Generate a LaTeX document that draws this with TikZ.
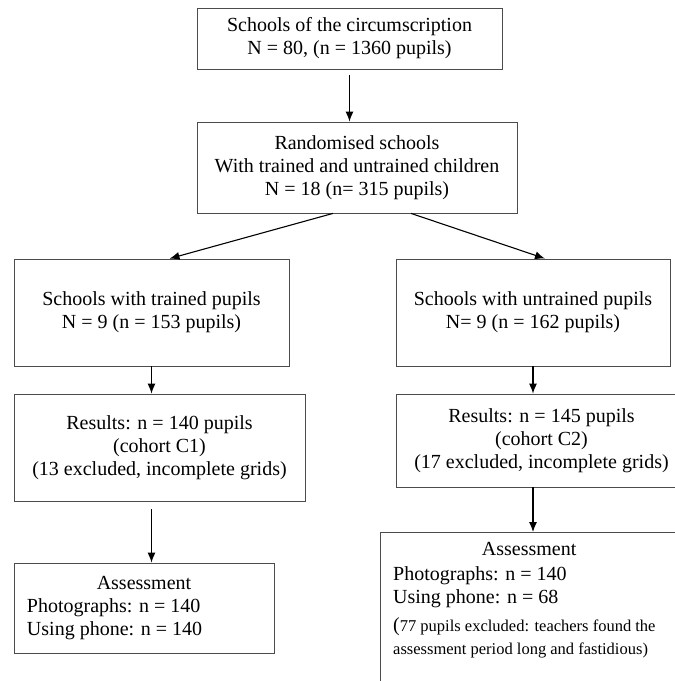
\documentclass[tikz,border=0pt]{standalone}
\usepackage{fontspec}
\setmainfont{Liberation Serif}
\usetikzlibrary{arrows.meta,calc}

\begin{document}
\begin{tikzpicture}[x=1pt, y=-1pt, >={Latex[length=10pt,width=8pt]},
            box/.style={draw=black!70, line width=0.8pt, inner sep=0pt, align=center},
            flow/.style={->, line width=1.1pt},
            font=\fontsize{20}{23}\selectfont]
            \useasboundingbox (0,0) rectangle (675,681);
            
            % Schools of the circumscription and randomisation
            \node[box, minimum width=305pt, minimum height=61pt] (circ) at (349.5,38.5)
                {Schools of the circumscription\\N = 80, (n = 1360 pupils)};
            \node[box, minimum width=320pt, minimum height=91pt] (rand) at (357,167.5)
                {Randomised schools\\With trained and untrained children\\N = 18 (n= 315 pupils)};
            
            % The two arms
            \node[box, minimum width=275pt, minimum height=107pt] (trained) at (151.5,312.5)
                {Schools with trained pupils\\N = 9 (n = 153 pupils)};
            \node[box, minimum width=274pt, minimum height=107pt] (untrained) at (533,312.5)
                {Schools with untrained pupils\\N= 9 (n = 162 pupils)};
            
            % Results of each cohort
            \node[box, minimum width=291pt, minimum height=107pt] (resL) at (159.5,447.5)
                {Results: n = 140 pupils\\(cohort C1)\\(13 excluded, incomplete grids)};
            \node[box, minimum width=291pt, minimum height=93pt] (resR) at (541.5,440.5)
                {Results: n = 145 pupils\\(cohort C2)\\(17 excluded, incomplete grids)};
            
            % Assessment boxes
            \node[box, align=flush left, text width=234pt, minimum width=260pt, minimum height=90pt] (assessL) at (144,608)
                {\makebox[\linewidth]{Assessment}\\Photographs: n = 140\\Using phone: n = 140};
            \node[box, anchor=north west, minimum width=310pt, minimum height=170pt] (assessR) at (380,532) {};
            \node[anchor=north west, inner sep=0pt, align=flush left, text width=272pt] (assessRtxt) at (393,542)
                {\makebox[\linewidth]{Assessment}\\[2pt]Photographs: n = 140\\Using phone: n = 68\\[7pt]
                 (\fontsize{16.5}{21}\selectfont 77 pupils excluded: teachers found the\\assessment period long and fastidious)};
            
            % Arrows
            \draw[flow, shorten <=6pt] (circ.south) -- (circ.south |- rand.north);
            \draw[flow] ([xshift=-24pt]rand.south) -- ([xshift=18pt]trained.north);
            \draw[flow] ([xshift=54pt]rand.south) -- ([xshift=12pt]untrained.north);
            \draw[flow] (trained.south) -- (trained.south |- resL.north);
            \draw[flow, shorten <=8pt] (resL.south -| trained.south) -- (assessL.north -| trained.south);
            \draw[flow] (untrained.south) -- (untrained.south |- resR.north);
            \draw[flow] (resR.south -| untrained.south) -- (assessR.north -| untrained.south);
        \end{tikzpicture}
\end{document}
